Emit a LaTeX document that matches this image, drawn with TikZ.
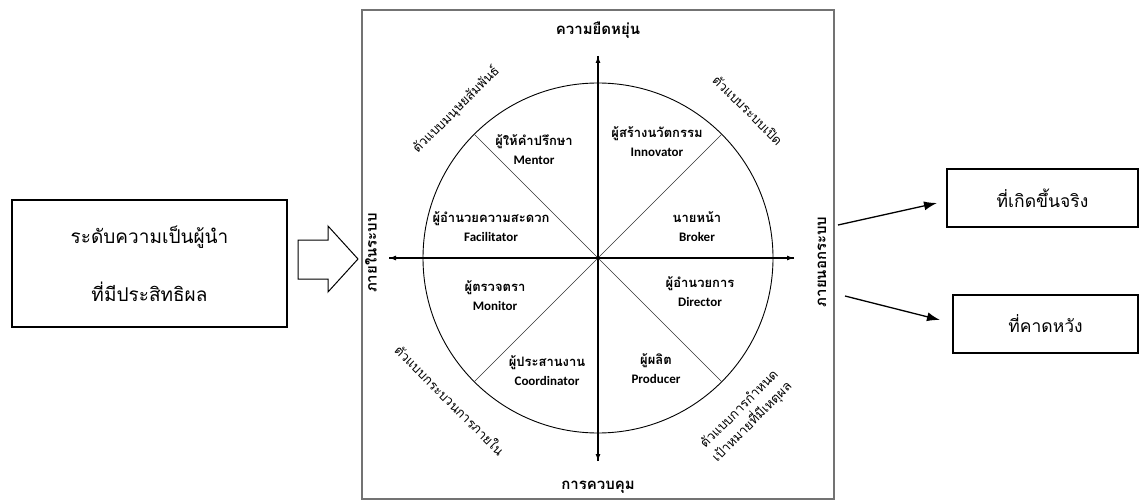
\documentclass[tikz,border=0pt]{standalone}
\usepackage{fontspec}
\newfontfamily\thai[Script=Thai]{Loma}
\newfontfamily\latf{Carlito}
\usetikzlibrary{arrows.meta,calc}
\tikzset{
  frameline/.style={draw=black!55,line width=1.5pt},
  axis/.style={line width=1.1pt,-{Latex[length=7pt,width=5pt]}},
  diag/.style={draw=black!80,line width=0.6pt},
  quad/.style={align=center,inner sep=0pt,font=\thai\bfseries\fontsize{13}{19}\selectfont},
  edge/.style={font=\thai\bfseries\fontsize{15}{16}\selectfont,inner sep=0pt},
  model/.style={font=\thai\fontsize{13}{18}\selectfont,inner sep=0pt,align=center},
  outbox/.style={draw,line width=2pt,inner sep=0pt},
  outarrow/.style={line width=1.3pt,-{Latex[length=13pt,width=9pt]}},
}
\newcommand{\en}[1]{{\latf\bfseries\fontsize{13}{15}\selectfont #1}}
\begin{document}
\begin{tikzpicture}[x=1pt,y=-1pt]
\useasboundingbox (0,0) rectangle (1141,500);
% frame
\draw[frameline] (362,10) rectangle (834,499);
% circle
\coordinate (c) at (598,258);
\draw[line width=0.9pt] (c) circle[radius=175pt];
\draw[diag] ($(c)+(-123.7,-123.7)$) -- ($(c)+(123.7,123.7)$);
\draw[diag] ($(c)+(123.7,-123.7)$) -- ($(c)+(-123.7,123.7)$);
% axes
\coordinate (vt) at (598,56);
\coordinate (vb) at (598,461);
\coordinate (hl) at (389,258);
\coordinate (hr) at (794,258);
\draw[axis] (vb) -- (vt);
\draw[axis] (vt) -- (vb);
\draw[axis] (hr) -- (hl);
\draw[axis] (hl) -- (hr);
% axis labels
\node[edge] (flex) at (598,30) {ความยืดหยุ่น};
\node[edge] (ctrl) at (598,487) {การควบคุม};
\node[edge,rotate=90] (inner) at (371,253) {ภายในระบบ};
\node[edge,rotate=90] (outer) at (822,262) {ภายนอกระบบ};
% quadrant roles
\node[quad] (mentor) at (534,150) {ผู้ให้คำปรึกษา\\\en{Mentor}};
\node[quad] (innov) at (657,142) {ผู้สร้างนวัตกรรม\\\en{Innovator}};
\node[quad] (facil) at (491,227) {ผู้อำนวยความสะดวก\\\en{Facilitator}};
\node[quad] (broker) at (697,227) {นายหน้า\\\en{Broker}};
\node[quad] (monitor) at (495,296) {ผู้ตรวจตรา\\\en{Monitor}};
\node[quad] (director) at (700,292) {ผู้อำนวยการ\\\en{Director}};
\node[quad] (coord) at (547,371) {ผู้ประสานงาน\\\en{Coordinator}};
\node[quad] (prod) at (656,369) {ผู้ผลิต\\\en{Producer}};
% model labels
\node[model,rotate=45] (hr1) at (456,110) {ตัวแบบมนุษยสัมพันธ์};
\node[model,rotate=-45] (os) at (748,110) {ตัวแบบระบบเปิด};
\node[model,rotate=-45] (ip) at (450,400) {ตัวแบบกระบวนการภายใน};
\node[model,rotate=45] (rg) at (746,416) {ตัวแบบการกำหนด\\เป้าหมายที่มีเหตุผล};
% left box
\node[outbox,minimum width=275pt,minimum height=127pt,align=center,
      font=\thai\fontsize{19}{58}\selectfont] (lead) at (149.5,263.5)
      {ระดับความเป็นผู้นำ\\ที่มีประสิทธิผล};
% block arrow
\draw[line width=1pt,fill=white] (298,240) -- (328,240) -- (328,226) -- (358,259)
  -- (328,292) -- (328,279) -- (298,279) -- cycle;
% right boxes
\node[outbox,minimum width=191pt,minimum height=58pt,font=\thai\fontsize{17.5}{20}\selectfont]
  (actual) at (1042.5,198) {ที่เกิดขึ้นจริง};
\node[outbox,minimum width=185pt,minimum height=58pt,font=\thai\fontsize{17.5}{20}\selectfont]
  (expect) at (1045.5,324) {ที่คาดหวัง};
\coordinate (a1s) at (838,225);
\coordinate (a2s) at (845,296);
\draw[outarrow] (a1s) -- ($(actual.west)+(-9,5)$);
\draw[outarrow] (a2s) -- ($(expect.west)+(-12,-4)$);
\end{tikzpicture}
\end{document}
